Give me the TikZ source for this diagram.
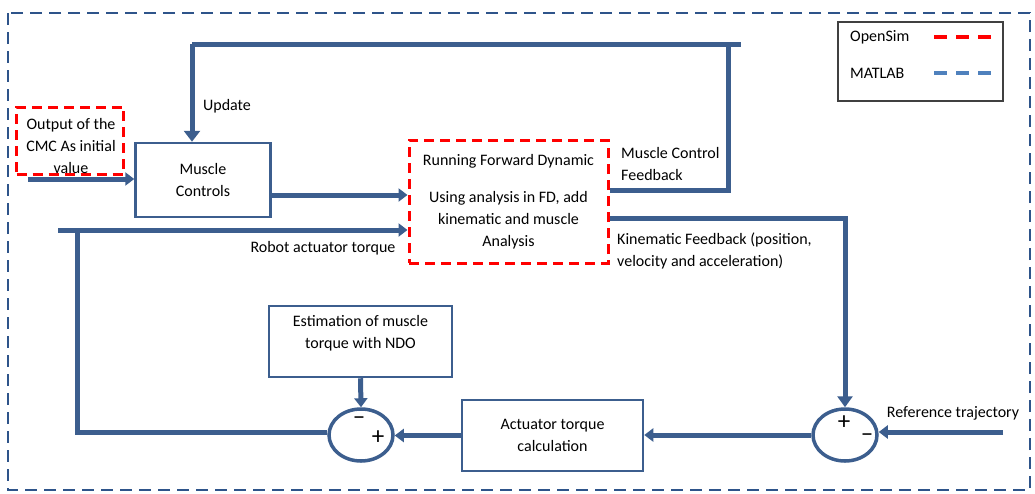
\documentclass[tikz,border=0pt]{standalone}
\usepackage{fontspec}
\setmainfont{Carlito}
\usetikzlibrary{arrows.meta,shapes.geometric}
\definecolor{lineblue}{RGB}{60,94,142}
\definecolor{frameblue}{RGB}{46,84,138}
\definecolor{legblue}{RGB}{79,129,189}
\definecolor{legred}{RGB}{255,0,0}
\begin{document}
\begin{tikzpicture}[x=1pt,y=-1pt,
  font=\fontsize{16}{22}\selectfont,
  box/.style={draw=lineblue, line width=2.5pt, inner sep=0pt, align=center, rectangle},
  redbox/.style={draw=legred, line width=3pt, dash pattern=on 10pt off 6pt, inner sep=0pt, align=center, rectangle},
  sumnode/.style={draw=lineblue, line width=3.5pt, ellipse, minimum width=64pt, minimum height=52pt, inner sep=0pt},
  conn/.style={draw=lineblue, line width=5pt},
  arr/.style={conn, -{Triangle[length=9pt,width=13pt]}},
  lbl/.style={inner sep=0pt, align=left},
  sign/.style={inner sep=0pt, font=\fontsize{25}{25}\selectfont}
]
\useasboundingbox (0,0) rectangle (1035,493);
% outer MATLAB frame
\draw[frameblue, line width=2pt, dash pattern=on 12pt off 7pt] (8,13) rectangle (1030,490);

% legend
\node[draw=black!75, line width=1.5pt, rectangle, minimum width=165pt, minimum height=79pt, inner sep=0pt] (legend) at (920.5,61.5) {};
\node[lbl, anchor=west] (lgos) at (850,37) {OpenSim};
\node[lbl, anchor=west] (lgml) at (850,73) {MATLAB};
\coordinate (lr1) at (934,37); \coordinate (lr2) at (994,37);
\coordinate (lb1) at (934,73); \coordinate (lb2) at (994,73);
\draw[legred, line width=3.5pt, dash pattern=on 13pt off 9pt] (lr1) -- (lr2);
\draw[legblue, line width=3.5pt, dash pattern=on 13pt off 9pt] (lb1) -- (lb2);

% blocks
\node[redbox, minimum width=107pt, minimum height=67pt] (cmc) at (70,140.5) {};
\node[lbl, align=center] (cmctext) at (71,145.5) {Output of the\\CMC As initial\\value};
\node[box, minimum width=135pt, minimum height=74pt] (mc) at (203,180) {Muscle\\Controls};
\node[redbox, minimum width=199pt, minimum height=123pt] (fd) at (508.5,201.5)
  {Running Forward Dynamic\\[15pt]Using analysis in FD, add\\kinematic and muscle\\Analysis};
\node[box, minimum width=183pt, minimum height=71pt] (ndo) at (360.5,341.5) {};
\node[lbl, align=center] (ndotext) at (360.5,333) {Estimation of muscle\\torque with NDO};
\node[box, minimum width=181pt, minimum height=71pt] (act) at (552.5,435.5) {Actuator torque\\calculation};
\node[sumnode] (sumL) at (361,435) {};
\node[sumnode] (sumR) at (845,435) {};
\node[sign] (sLm) at (359,421) {–};
\node[sign] (sLp) at (378,438) {+};
\node[sign] (sRp) at (844,423) {+};
\node[sign] (sRm) at (867,438) {–};

% labels
\node[lbl] (upd) at (227,106) {Update};
\node[lbl, anchor=west] (mcf) at (621,164) {Muscle Control\\Feedback};
\node[lbl, anchor=west] (kf) at (617,251) {Kinematic Feedback (position,\\velocity and acceleration)};
\node[lbl] (rat) at (323,248) {Robot actuator torque};
\node[lbl] (reft) at (953,413) {Reference trajectory};

% connectors
\coordinate (in) at (28,179);
\draw[arr] (in) -- (in -| mc.west);
\draw[arr] ([yshift=-15pt]mc.east) -- ([yshift=-15pt]mc.east -| fd.west);
% muscle control feedback loop
\coordinate (t1) at (728,44);
\coordinate (t0) at (741,44);
\coordinate (t2) at (192,44);
\draw[conn] ([yshift=11.5pt]fd.east) -| (t1) -- (t2);
\draw[conn] (t1) -- (t0);
\draw[conn, -{Triangle[length=11pt,width=16pt]}] (t2) -- (t2 |- mc.north);
% kinematic feedback
\draw[conn, -{Triangle[length=11pt,width=15pt]}] ([yshift=-16.5pt]fd.east) -| (sumR.north);
% reference trajectory
\coordinate (ref) at (1003,432);
\draw[arr] (ref) -- (ref -| sumR.east);
\draw[arr] (sumR.west) -- (sumR.west -| act.east);
\draw[arr] (act.west) -- (act.west -| sumL.east);
\draw[arr] (ndo.south) -- (sumL.north);
% robot actuator torque loop
\coordinate (l1) at (77,432);
\coordinate (l2) at (77,230);
\coordinate (l0) at (58,230);
\draw[conn] (sumL.west |- l1) -- (l1) -- (l2);
\draw[arr] (l0) -- (l0 -| fd.west);
\end{tikzpicture}
\end{document}
